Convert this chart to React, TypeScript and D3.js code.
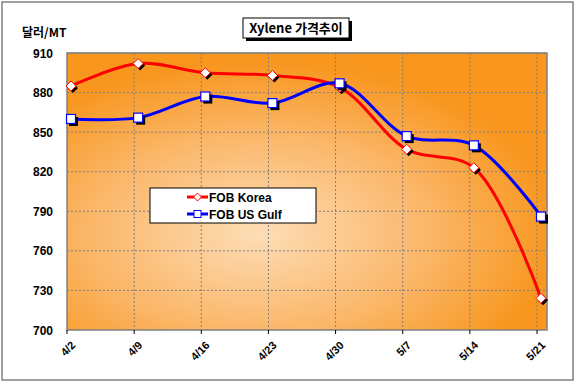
import React from "react";
import * as d3 from "d3";

const categories = ["4/2", "4/9", "4/16", "4/23", "4/30", "5/7", "5/14", "5/21"];
const koreaValues = [885, 902, 895, 893, 884, 837, 823, 724];
const usGulfValues = [860, 861, 877, 872, 887, 847, 840, 786];
const yTicks = [700, 730, 760, 790, 820, 850, 880, 910];
const seriesNames = ["FOB Korea", "FOB US Gulf"];

const W = 576, H = 382;
const plot = { left: 67, right: 547, top: 53, bottom: 330 };

export default function App() {
  const y = d3.scaleLinear().domain([700, 910]).range([plot.bottom, plot.top]);
  const xg = d3.scalePoint<string>().domain(categories).range([67, 537]);
  const xp = (c: string) => (xg(c) as number) + 4;
  const line = d3.line<number>()
    .x((_, i) => xp(categories[i]))
    .y((d) => y(d))
    .curve(d3.curveCatmullRom.alpha(0.5));
  const font = "Arial, 'Liberation Sans', sans-serif";
  const kfont = "'Noto Sans CJK KR', 'Noto Sans', sans-serif";
  const diamond = (cx: number, cy: number, r: number) =>
    `M${cx},${cy - r}L${cx + r},${cy}L${cx},${cy + r}L${cx - r},${cy}Z`;

  return (
    <svg width={W} height={H} style={{ position: "absolute", left: 0, top: 0 }}>
      <defs>
        <radialGradient id="bg" cx="0.4" cy="0.65" r="0.62">
          <stop offset="0" stopColor="#FDDDB6" />
          <stop offset="0.55" stopColor="#FBB86C" />
          <stop offset="1" stopColor="#F8961E" />
        </radialGradient>
      </defs>
      <rect x={0} y={0} width={W} height={H} fill="#fff" />
      <rect x={2} y={2} width={571} height={378} fill="#fff" stroke="#808080" strokeWidth={1.5} />

      {/* Title */}
      <rect x={246} y={21} width={106} height={20} fill="#000" />
      <rect x={243} y={18} width={106} height={20} fill="#fff" stroke="#000" strokeWidth={1} />
      <text x={296} y={33} textAnchor="middle" fontFamily={kfont} fontWeight="bold" fontSize={13}>
        Xylene 가격추이
      </text>

      <text x={22} y={37} fontFamily={kfont} fontSize={12} fontWeight="bold">달러/MT</text>

      {/* Plot area */}
      <rect x={plot.left} y={plot.top} width={plot.right - plot.left} height={plot.bottom - plot.top} fill="url(#bg)" />
      {yTicks.slice(1).map((t) => (
        <line key={"h" + t} x1={plot.left} x2={plot.right} y1={y(t)} y2={y(t)} stroke="#7f7f7f" strokeWidth={1} strokeDasharray="2,2" />
      ))}
      {categories.slice(1).map((c) => (
        <line key={"v" + c} x1={xg(c)} x2={xg(c)} y1={plot.top} y2={plot.bottom} stroke="#7f7f7f" strokeWidth={1} strokeDasharray="2,2" />
      ))}
      <rect x={plot.left} y={plot.top} width={plot.right - plot.left} height={plot.bottom - plot.top} fill="none" stroke="#808080" strokeWidth={1.5} />

      {/* Y axis labels */}
      {yTicks.map((t) => (
        <text key={"yl" + t} x={53} y={y(t) + 4.5} textAnchor="end" fontFamily={font} fontWeight="bold" fontSize={12}>{t}</text>
      ))}
      {/* X ticks and labels */}
      {categories.map((c) => (
        <g key={"xl" + c}>
          <line x1={xg(c)} x2={xg(c)} y1={plot.bottom} y2={plot.bottom + 4} stroke="#000" />
          <text transform={`translate(${(xg(c) as number) + 9},${346}) rotate(-45)`} textAnchor="end" fontFamily={font} fontWeight="bold" fontSize={11}>{c}</text>
        </g>
      ))}

      {/* Lines */}
      <path d={line(koreaValues) || ""} fill="none" stroke="#FF0000" strokeWidth={3} />
      <path d={line(usGulfValues) || ""} fill="none" stroke="#0000FF" strokeWidth={3} />

      {koreaValues.map((v, i) => {
        const cx = xp(categories[i]), cy = y(v);
        return (
          <g key={"km" + i}>
            <path d={diamond(cx + 2, cy + 2, 5)} fill="#000" />
            <path d={diamond(cx, cy, 5)} fill="#fff" stroke="#FF0000" strokeWidth={1} />
          </g>
        );
      })}
      {usGulfValues.map((v, i) => {
        const cx = xp(categories[i]), cy = y(v);
        return (
          <g key={"um" + i}>
            <rect x={cx - 4 + 2} y={cy - 4 + 2} width={9} height={9} fill="#000" />
            <rect x={cx - 4.5} y={cy - 4.5} width={9} height={9} fill="#fff" stroke="#0000FF" strokeWidth={1.2} />
          </g>
        );
      })}

      {/* Legend */}
      <rect x={150} y={188} width={166} height={35} fill="#fff" stroke="#000" strokeWidth={1} />
      {seriesNames.map((n, i) => {
        const cy = 197 + i * 17;
        const col = i === 0 ? "#FF0000" : "#0000FF";
        return (
          <g key={"lg" + i}>
            <line x1={187} x2={208} y1={cy} y2={cy} stroke={col} strokeWidth={3} />
            {i === 0 ? (
              <path d={diamond(197.5, cy, 4)} fill="#fff" stroke={col} strokeWidth={1} />
            ) : (
              <rect x={194} y={cy - 3.5} width={7} height={7} fill="#fff" stroke={col} strokeWidth={1} />
            )}
            <text x={209} y={cy + 4.5} fontFamily={font} fontWeight="bold" fontSize={12}>{n}</text>
          </g>
        );
      })}
    </svg>
  );
}
